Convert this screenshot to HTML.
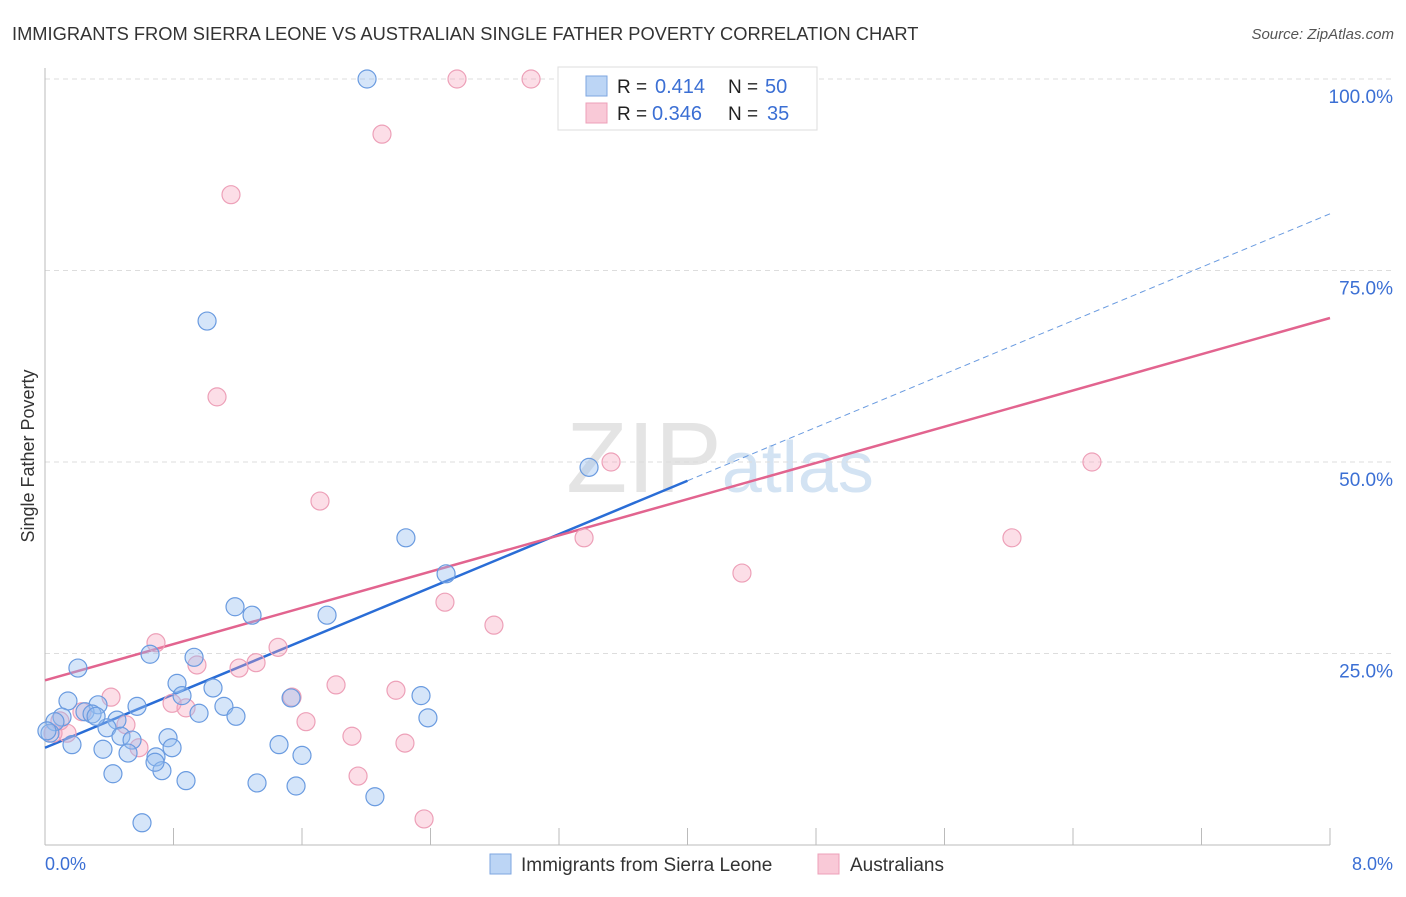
<!DOCTYPE html>
<html><head><meta charset="utf-8"><style>
body{margin:0;background:#fff;font-family:"Liberation Sans",sans-serif}
svg text{font-family:"Liberation Sans",sans-serif}
</style></head><body>
<svg id="chart" width="1406" height="892">
<text x="12" y="40" font-size="18.3" fill="#333">IMMIGRANTS FROM SIERRA LEONE VS AUSTRALIAN SINGLE FATHER POVERTY CORRELATION CHART</text>
<text x="1394" y="39" font-size="15" fill="#555" text-anchor="end" font-style="italic">Source: ZipAtlas.com</text>
<text x="720" y="492" font-size="100" fill="#e4e4e4" text-anchor="middle" font-family="Liberation Serif">ZIP<tspan fill="#d3e3f3" font-family="Liberation Sans" font-size="72">atlas</tspan></text>
<g id="grid"></g><g id="axes"></g><g id="lines"></g><g id="pts"></g>
<text transform="translate(34,456) rotate(-90)" font-size="18" fill="#333" text-anchor="middle">Single Father Poverty</text>
<text x="45" y="870" font-size="18" fill="#3b6fd4">0.0%</text>
<text x="1393" y="870" font-size="18" fill="#3b6fd4" text-anchor="end">8.0%</text>
<g>
<rect x="558" y="67" width="259" height="63" fill="#fff" stroke="#ddd"/>
<rect x="586" y="76" width="21" height="20" fill="#bcd5f5" stroke="#7ea6e0"/>
<rect x="586" y="103" width="21" height="20" fill="#f9c9d7" stroke="#eda0b8"/>
<text x="617" y="93" font-size="19" fill="#222">R =</text>
<text x="655" y="93" font-size="20" fill="#3b6fd4">0.414</text>
<text x="728" y="93" font-size="19" fill="#222">N =</text>
<text x="765" y="93" font-size="20" fill="#3b6fd4">50</text>
<text x="617" y="120" font-size="19" fill="#222">R =</text>
<text x="652" y="120" font-size="20" fill="#3b6fd4">0.346</text>
<text x="728" y="120" font-size="19" fill="#222">N =</text>
<text x="767" y="120" font-size="20" fill="#3b6fd4">35</text>
</g>
<g>
<rect x="490" y="854" width="21" height="20" fill="#bcd5f5" stroke="#7ea6e0"/>
<text x="521" y="871" font-size="19" fill="#333">Immigrants from Sierra Leone</text>
<rect x="818" y="854" width="21" height="20" fill="#f9c9d7" stroke="#eda0b8"/>
<text x="850" y="871" font-size="19" fill="#333">Australians</text>
</g>
</svg>
<script>
const yTicks=[25,50,75,100];
const yTickLabels=["25.0%","50.0%","75.0%","100.0%"];
const blueX=[2.005,1.009,3.387,2.247,2.497,1.183,1.289,1.756,0.205,0.654,0.928,0.822,1.046,0.853,0.143,0.330,0.573,1.114,0.959,1.189,2.341,2.384,1.532,0.106,0.249,0.293,0.448,0.386,0.062,0.031,0.168,0.473,0.542,0.766,0.361,0.517,0.791,1.457,0.691,1.600,0.423,0.728,0.878,1.320,1.563,2.054,0.604,0.685,0.318,0.012];
const blueY=[100,68.4,49.3,40.1,35.4,31.1,30.0,30.0,23.1,24.9,24.5,21.1,20.5,19.5,18.8,18.3,18.1,18.1,17.2,16.8,19.5,16.6,19.2,16.7,17.4,17.1,16.3,15.3,16.1,14.6,13.1,14.2,13.7,14.0,12.5,12.0,12.7,13.1,11.5,11.7,9.3,9.7,8.4,8.1,7.7,6.3,2.9,10.8,16.8,14.9];
const pinkX=[2.565,3.026,2.098,1.158,1.071,1.712,3.524,6.518,6.020,3.356,4.339,2.490,2.795,0.691,1.451,0.946,1.314,1.208,0.411,0.791,0.878,1.538,1.812,2.185,1.625,1.911,2.241,1.949,2.360,0.137,0.504,0.585,0.050,0.230,0.093];
const pinkY=[100,100,92.8,84.9,58.5,44.9,50.0,50.0,40.1,40.1,35.5,31.7,28.7,26.4,25.8,23.5,23.8,23.1,19.3,18.5,17.9,19.3,20.9,20.2,16.1,14.2,13.3,9.0,3.4,14.6,15.7,12.7,14.6,17.4,16.2];
const blueTrend=[12.7,82.4];
const pinkTrend=[21.5,68.8];
const blueSolidEnd=4.0;
const X0=45,X1=1330,Y0=845,YPX=7.66;
const sx=v=>X0+(v/8)*(X1-X0);
const sy=v=>Y0-v*YPX;
const NS="http://www.w3.org/2000/svg";
function mk(tag,attrs,parent){const e=document.createElementNS(NS,tag);for(const k in attrs)e.setAttribute(k,attrs[k]);parent.appendChild(e);return e;}
const grid=document.getElementById('grid');
yTicks.forEach((t,i)=>{
  const l=mk('line',{x1:X0,x2:1395,y1:sy(t),y2:sy(t),stroke:'#ddd','stroke-dasharray':'5,4'},grid);
  
  
  const tx=mk('text',{x:1393,y:sy(t)+24,'font-size':19,fill:'#3b6fd4','text-anchor':'end'},grid);
  tx.textContent=yTickLabels[i];
  
  
});
const axes=document.getElementById('axes');
const ya=mk('line',{x1:X0,x2:X0,y1:68,y2:Y0,stroke:'#bbb'},axes);


const xa=mk('line',{x1:X0,x2:X1,y1:Y0,y2:Y0,stroke:'#bbb'},axes);


for(let k=1;k<=10;k++){
  const t=mk('line',{x1:sx(k*0.8),x2:sx(k*0.8),y1:Y0,y2:828,stroke:'#bbb'},axes);
  
  
}
const lines=document.getElementById('lines');
const ty=(tr,x)=>tr[0]+(tr[1]-tr[0])*x/8;
const bl=mk('line',{x1:sx(0),y1:sy(ty(blueTrend,0)),x2:sx(blueSolidEnd),y2:sy(ty(blueTrend,blueSolidEnd)),stroke:'#2a6dd6','stroke-width':2.5},lines);


const bd=mk('line',{x1:sx(blueSolidEnd),y1:sy(ty(blueTrend,blueSolidEnd)),x2:sx(8),y2:sy(ty(blueTrend,8)),stroke:'#6a9be0','stroke-width':1,'stroke-dasharray':'6,4'},lines);


const pl=mk('line',{x1:sx(0),y1:sy(ty(pinkTrend,0)),x2:sx(8),y2:sy(ty(pinkTrend,8)),stroke:'#e2648f','stroke-width':2.5},lines);


const pts=document.getElementById('pts');
pinkX.forEach((x,i)=>{
  const c=mk('circle',{cx:sx(x),cy:sy(pinkY[i]),r:9,fill:'rgba(245,160,185,0.35)',stroke:'#eda0b8','stroke-width':1.2},pts);
  
  
});
blueX.forEach((x,i)=>{
  const c=mk('circle',{cx:sx(x),cy:sy(blueY[i]),r:9,fill:'rgba(150,190,240,0.4)',stroke:'#6a9be0','stroke-width':1.2},pts);
  
  
});
</script>
</body></html>
